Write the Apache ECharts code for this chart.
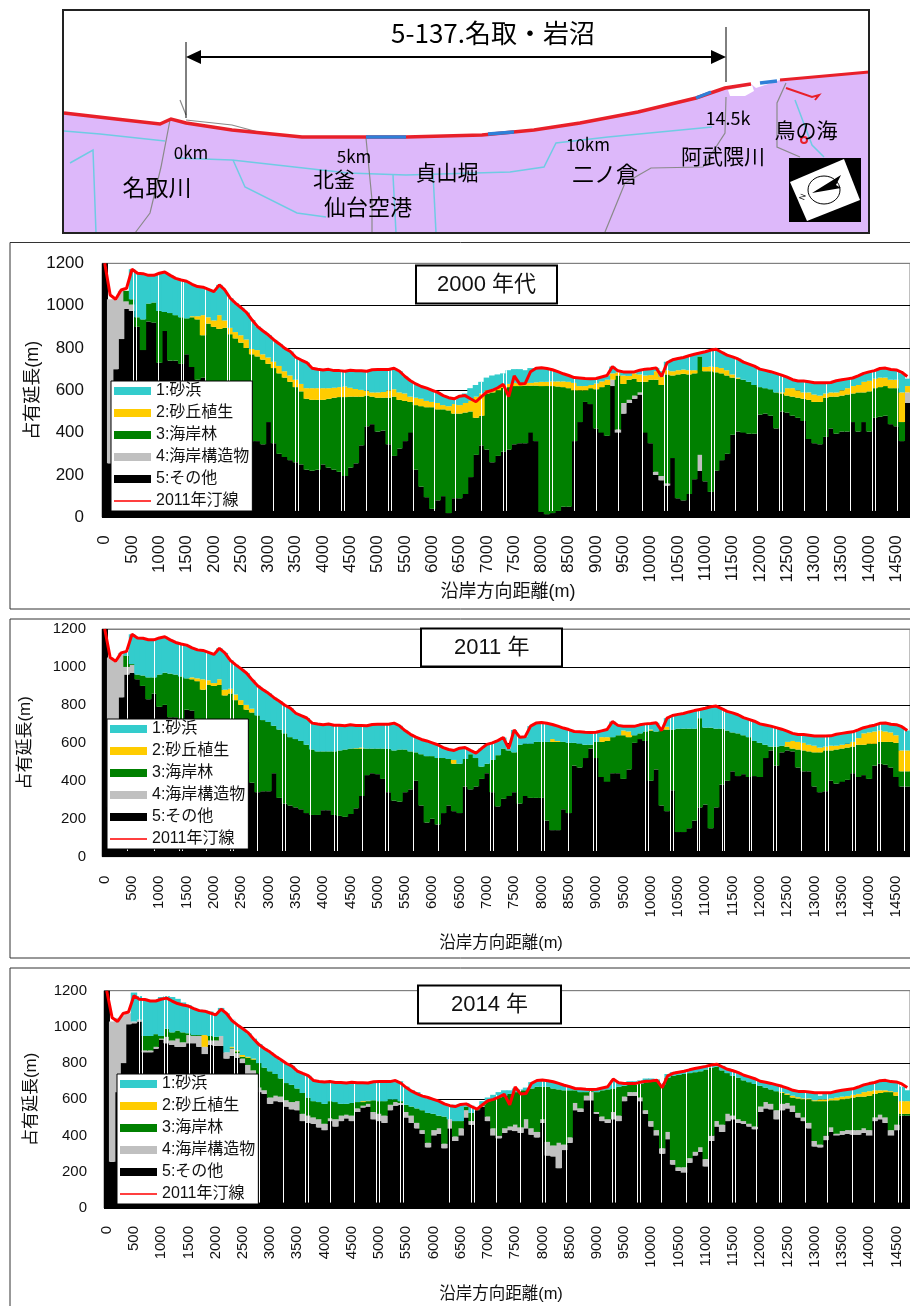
<!DOCTYPE html>
<html><head><meta charset="utf-8">
<style>html,body{margin:0;padding:0;background:#fff}#c{width:910px;height:1306px}</style>
<script src="https://cdn.jsdelivr.net/npm/echarts@6/dist/echarts.min.js"></script>
</head><body><div id="c"></div>
<script>
const binMetres=100, binCount=148;
const categories=Array.from({length:binCount},(_,i)=>String(i*binMetres));
const names=['5:その他','4:海岸構造物','3:海岸林','2:砂丘植生','1:砂浜'];
const shorelineName='2011年汀線';
const yearLabels=['2000 年代','2011 年','2014 年'];
const colors=['#000000','#C0C0C0','#008000','#FFCC00','#33CCCC'];

const shoreline=[1200,1050,1030,1074,1082,1172,1153,1151,1143,1143,
1153,1159,1143,1129,1121,1115,1101,1090,1087,1077,
1066,1098,1074,1035,1011,990,967,932,901,880,
861,838,819,798,783,756,743,731,704,699,
696,699,693,693,690,695,692,692,690,697,
698,698,698,704,690,665,645,630,618,610,
600,590,575,565,560,572,575,560,546,570,
592,600,612,628,570,668,630,632,688,704,
707,703,697,688,678,670,660,658,656,655,
656,663,670,712,692,687,687,687,695,700,
702,706,665,730,744,750,755,763,770,776,
782,790,794,780,766,758,748,733,724,714,
700,694,688,680,672,662,650,644,644,640,
636,636,636,637,645,650,654,658,668,680,
687,693,703,705,698,696,685,665];

// ---- 2000s
const other2000=[1200,255,700,842,985,975,900,790,925,920,
730,880,740,740,725,770,710,650,660,620,
620,610,600,590,580,560,520,360,360,345,
450,350,300,285,270,260,250,225,220,225,
250,235,225,215,195,235,255,340,430,440,
405,410,345,290,325,360,400,225,145,95,
40,80,100,20,90,90,110,190,295,340,
320,260,290,310,320,345,350,350,400,360,
25,15,20,30,50,50,360,450,545,535,
420,400,385,620,400,490,540,560,580,400,
350,200,175,150,280,90,80,110,180,220,
170,120,220,270,300,390,405,400,395,395,
485,490,480,420,500,495,480,470,455,370,
350,345,380,420,395,405,405,450,405,450,
405,470,475,480,440,430,360,540];
const struct2000=[0,775,330,228,35,30,0,0,0,0,
0,0,0,0,0,0,0,0,0,0, 0,0,0,0,0,0,0,0,0,0,
0,0,0,0,0,0,0,0,0,0, 0,0,0,0,0,0,0,0,0,0,
0,0,0,0,0,0,0,0,0,0, 0,0,0,0,0,0,0,0,0,0,
0,0,0,0,0,0,0,0,0,0, 0,0,0,0,0,0,0,0,0,0,
0,0,0,30,15,50,15,15,10,0,
0,15,20,10,0,0,0,0,0,75,
0,0,0,0,0,0,0,0,0,0, 0,0,0,0,0,0,0,0,0,0,
0,0,0,0,0,0,0,0,0,0, 0,0,0,0,0,0,0,50];
const forestTop2000=[1200,1030,1030,1070,1070,1030,945,935,1010,1015,
975,970,965,955,945,940,945,935,860,915,
900,890,895,865,845,825,800,770,760,745,
725,705,680,660,640,615,595,560,555,555,
555,560,565,568,568,570,570,570,575,570,
565,565,565,570,555,550,545,530,525,520,
520,510,510,505,490,490,495,500,470,480,
585,590,600,612,615,620,620,622,622,622,
620,620,620,618,615,610,600,600,600,610,
605,615,625,650,670,630,650,655,640,640,
650,650,625,675,670,675,678,675,680,760,
690,690,685,680,670,660,655,650,640,625,
615,610,605,590,585,575,570,565,560,555,
545,545,565,570,570,575,580,585,590,590,
595,610,615,620,610,610,450,590];
const dune2000=[0,0,0,0,0,0,0,0,0,0,
0,0,0,0,0,0,5,15,95,30,
30,65,35,30,30,35,40,25,30,25,
30,30,35,30,30,35,35,50,55,55,
55,50,47,47,50,42,36,32,23,20,
25,27,35,35,35,35,25,35,35,30,
25,30,20,20,45,40,45,50,100,105,
15,15,15,13,15,15,12,13,13,16,
20,20,22,24,27,30,35,20,20,15,
27,27,25,30,15,40,18,25,35,30,
22,40,40,20,20,20,20,20,15,0,
20,22,25,25,25,15,5,0,0,0,
0,0,0,0,5,35,40,35,30,35,
35,30,20,20,20,25,30,35,35,50,
50,45,45,40,40,40,140,30];
const total2000=[1200,1030,1030,1070,1070,1172,1153,1151,1143,1143,
1153,1159,1143,1129,1121,1115,1101,1090,1087,1077,
1066,1098,1074,1035,1011,990,967,932,901,880,
861,838,819,798,783,756,743,731,704,699,
696,699,693,693,690,695,692,692,690,697,
698,698,698,704,690,665,645,630,618,610,
600,590,575,565,555,572,585,610,625,640,
660,670,675,680,695,700,700,695,705,704,
707,703,697,688,678,670,660,658,656,655,
656,663,670,712,692,687,687,687,695,700,
702,706,690,735,745,752,758,765,772,778,
785,790,795,782,766,758,750,733,724,714,
700,694,688,680,672,662,650,644,644,640,
636,636,636,637,645,650,654,658,668,680,
687,693,703,705,698,696,680,655];
const gaps2000=[523,573,981,1391,1438,1841,2233,2280,2683,3085,3488,3543,3927,4330,4385,4787,5190,5245,5647,6032,6411,6887,7295,7357,8136,8191,8594,8996,9399,9838,10241,10303,10698,11108,11156,11547,11942,12345,12408,12803,13205,13652,14047,14109,14504];

// ---- 2011
const other2011=[1200,260,700,840,960,970,935,900,830,860,
790,800,735,735,720,775,770,700,680,650,
640,620,620,600,590,570,500,390,340,345,
345,440,310,280,270,260,250,230,220,220,
245,245,220,215,210,225,255,320,430,440,
435,410,340,295,290,340,355,400,270,180,
200,170,230,270,240,230,370,355,370,410,
440,340,265,305,320,340,280,320,310,310,
310,190,140,140,250,230,480,470,520,570,
520,420,395,440,440,410,460,600,620,610,
400,460,270,240,350,130,130,150,190,260,
275,150,260,380,400,450,425,435,420,425,
420,520,560,480,550,560,555,470,450,450,
370,340,345,400,385,395,405,440,420,430,
410,480,490,485,470,420,370,370];
const struct2011=[0,790,330,234,40,40,0,0,0,0,
0,0,0,0,0,0,0,0,0,0, 0,0,0,0,0,0,0,0,0,0,
0,0,0,0,0,0,0,0,0,0, 0,0,0,0,0,0,0,0,0,0,
0,0,0,0,0,0,0,0,0,0, 0,0,0,0,0,0,0,0,0,0,
0,0,0,0,0,0,0,0,0,0, 0,0,0,0,0,0,0,0,0,0,
0,0,0,0,0,0,0,0,0,0, 0,0,0,0,0,0,0,0,0,0,
0,0,0,0,0,0,0,0,0,0, 0,0,0,0,0,0,0,0,0,0,
0,0,0,0,0,0,0,0,0,0, 0,0,0,0,0,0,0,0];
const forestTop2011=[1200,1050,1030,1074,1060,1015,960,955,945,945,
960,970,965,960,950,940,935,925,880,905,
900,905,850,860,825,800,775,760,745,720,
710,690,670,650,630,620,610,590,565,555,
555,555,555,560,565,570,570,570,570,570,
570,570,568,560,565,565,555,550,540,530,
530,520,520,515,490,490,515,540,520,475,
490,510,535,570,560,550,590,595,595,605,
605,605,605,605,605,600,600,595,590,590,
605,605,610,630,640,640,630,640,650,660,
665,660,670,670,670,675,675,675,675,730,
680,680,675,675,665,655,650,640,630,610,
600,590,580,580,585,580,570,565,560,555,
550,550,560,560,565,570,575,580,590,590,
595,595,605,605,605,600,450,450];
const dune2011=[0,0,0,0,0,0,0,0,0,0,
0,0,0,0,0,0,10,15,55,25,
15,30,30,25,30,25,25,20,0,0,
0,0,0,0,0,0,0,0,0,0,
0,0,0,0,0,0,2,5,0,0,
0,0,0,0,0,0,0,0,0,0,
0,0,0,0,20,0,0,0,0,0,
0,0,0,0,0,0,0,0,0,0,
0,0,15,5,0,0,0,0,0,0,
0,25,20,0,0,25,30,0,0,0,
5,0,0,15,0,0,0,0,0,0,
0,0,0,0,0,0,0,0,0,0,
0,0,0,0,0,25,40,40,40,35,
35,25,20,25,20,20,20,25,35,60,
60,65,60,55,50,40,110,110];
const total2011=shoreline;
const gaps2011=[410,902,1357,1411,1848,2303,2358,2795,3250,3304,3759,4196,4250,4706,5142,5197,5652,6107,6598,7053,7103,7545,8000,8054,8491,8946,9001,9893,9947,10355,10402,10846,10894,11301,11349,11793,11840,12240,12295,12750,13187,13241,13696,13751,14141,14195,14646];

// ---- 2014
const other2014=[1200,255,640,800,1015,1020,1030,860,860,880,
930,910,900,890,890,910,910,890,850,900,
895,895,825,840,830,800,730,720,640,630,
575,590,585,560,545,540,480,470,465,445,
430,480,450,480,495,480,530,555,560,490,
480,470,540,565,570,500,470,440,410,335,
400,410,330,440,370,400,500,460,540,560,
480,400,385,415,430,425,415,440,405,390,
470,290,285,220,320,360,540,530,595,595,
520,480,470,490,480,590,620,620,590,520,
450,400,300,380,240,205,195,250,290,310,
230,370,450,420,480,490,470,465,450,435,
530,550,545,490,540,550,530,500,480,440,
340,335,375,420,400,405,410,405,405,415,
400,480,490,470,400,430,510,510];
const struct2014=[0,775,410,265,60,10,10,10,10,10,
5,35,25,45,25,45,40,60,40,25,
30,55,35,40,25,25,60,40,25,20,
35,30,30,35,40,50,40,40,35,45,
35,15,40,30,20,30,20,10,15,40,
40,40,30,20,10,30,40,30,20,25,
30,30,25,50,25,40,40,20,0,5,
25,40,15,25,20,35,30,50,35,30,
20,75,60,140,30,30,40,20,25,45,
10,25,20,40,30,25,20,20,20,20,
30,30,30,40,25,20,30,25,20,25,
40,30,30,40,40,20,20,15,15,15,
30,35,30,50,35,30,35,25,20,30,
30,15,25,25,10,20,20,25,25,25,
30,20,25,30,30,30,0,0];
const forestTop2014=[1200,1030,1050,1065,1075,1030,1040,950,950,960,
950,990,970,980,970,965,955,955,890,950,
945,950,860,885,865,835,830,820,800,775,
755,740,715,690,680,660,635,610,590,585,
575,590,585,575,575,580,585,585,590,595,
590,590,600,600,590,570,560,550,540,525,
520,510,505,490,480,480,560,525,545,570,
590,600,610,620,630,640,650,650,660,670,
670,670,660,655,650,650,650,640,640,645,
640,650,655,660,670,675,680,680,685,695,
700,700,680,720,730,735,740,745,750,755,
765,775,780,760,745,730,720,705,695,685,
675,665,655,645,635,625,610,605,600,600,
590,590,590,595,595,600,605,610,615,615,
620,630,635,640,640,620,520,520];
const dune2014=[0,0,0,0,0,0,0,0,0,0,
0,0,0,0,0,0,0,0,65,0,
0,0,0,5,5,10,5,5,0,0,
0,0,0,0,0,0,0,0,0,0,
0,0,0,0,0,0,0,5,2,0,
0,0,0,0,0,0,0,0,0,0, 0,0,0,0,0,0,0,0,0,0,
0,0,0,0,0,0,0,0,0,0, 0,0,0,0,0,0,0,0,0,0,
0,0,0,0,0,0,0,0,0,0, 0,0,0,0,0,0,0,0,0,0,
0,0,0,0,0,0,0,0,0,0,
0,0,0,0,5,7,10,7,5,5,
5,10,10,10,15,15,13,15,15,25,
25,20,15,10,5,20,70,70];
const total2014=[1200,1030,1050,1065,1075,1190,1170,1155,1145,1145,
1165,1170,1165,1155,1135,1120,1105,1095,1090,1085,
1075,1105,1075,1040,1010,990,965,935,905,880,
860,838,815,800,785,755,745,730,705,700,
695,695,693,693,690,695,692,692,690,697,
698,704,704,695,700,670,650,640,620,605,
600,590,575,560,570,575,580,565,550,590,
610,625,640,650,650,660,655,665,695,700,
705,700,695,688,680,670,665,660,655,655,
658,665,672,705,692,695,700,700,705,715,
715,710,690,740,750,755,758,765,772,778,
785,790,795,785,770,758,748,733,722,712,
700,694,688,680,672,662,650,644,640,640,
630,620,632,640,645,650,654,658,668,680,
687,693,703,705,700,696,670,650];
const gaps2014=[594,649,1050,1105,1507,1897,1952,2346,2401,2802,3240,3642,3697,4098,4536,4937,4992,5394,5449,6288,6689,6744,7146,7584,7985,8040,8441,8880,9281,9336,9737,9792,10175,10632,11033,11088,11484,11533,11927,12336,12384,12822,13230,13679,14081,14526,14581];

const FONT='"Liberation Sans","Noto Sans CJK JP",sans-serif';
const TXT='#111';

const panels=[
 {other:other2000,struct:struct2000,forestTop:forestTop2000,dune:dune2000,total:total2000,gaps:gaps2000,
  left:102,top:263.3,height:254,band:5.46,font:17,nameSize:18,yGap:60,xGap:66,xMargin:18,yMargin:18,nameSizeX:18,namePad:[0,0,0,4],
  legend:[111,381],title:[416,265],titlePad:[8.5,21]},
 {other:other2011,struct:struct2011,forestTop:forestTop2011,dune:dune2011,total:total2011,gaps:gaps2011,
  left:102,top:629,height:227.7,band:5.49,font:15,nameSize:17,yGap:68,xGap:79,xMargin:19,yMargin:16,nameSizeX:16.5,namePad:[0,10,0,0],
  legend:[107,719],title:[421,628],titlePad:[8.5,33]},
 {other:other2014,struct:struct2014,forestTop:forestTop2014,dune:dune2014,total:total2014,gaps:gaps2014,
  left:104,top:990.7,height:217.3,band:5.48,font:15,nameSize:17,yGap:64,xGap:78,xMargin:18,yMargin:17,nameSizeX:16.5,namePad:[0,12,0,0],
  legend:[117,1074],title:[418,985],titlePad:[8.5,33]}
];

const grid=[],xAxis=[],yAxis=[],series=[],legend=[],title=[];
panels.forEach((p,k)=>{
  grid.push({left:p.left,top:p.top,width:p.band*binCount,height:p.height,show:true,backgroundColor:'#fff',borderColor:'#808080',borderWidth:1});
  xAxis.push({type:'category',gridIndex:k,data:categories,
    axisLine:{show:false},axisTick:{show:false},
    axisLabel:{interval:4,rotate:90,fontSize:p.font,fontFamily:FONT,color:TXT,margin:p.xMargin,padding:[6,0,0,0]},
    name:'沿岸方向距離(m)',nameLocation:'middle',nameGap:p.xGap,nameMoveOverlap:false,
    nameTextStyle:{fontSize:p.nameSizeX,fontFamily:FONT,color:TXT,padding:p.namePad}});
  xAxis.push({type:'value',gridIndex:k,min:-binMetres/2,max:binMetres*(binCount-0.5),show:false});
  yAxis.push({type:'value',gridIndex:k,min:0,max:1200,interval:200,
    axisLine:{show:false},axisTick:{show:false},
    axisLabel:{fontSize:p.font,fontFamily:FONT,color:TXT,margin:p.yMargin,formatter:v=>String(v)},
    splitLine:{show:true,lineStyle:{color:['#000','#000','#000','#000','#000','#000','#808080'],width:1}},
    name:'占有延長(m)',nameLocation:'middle',nameGap:p.yGap,nameMoveOverlap:false,
    nameTextStyle:{fontSize:p.nameSize,fontFamily:FONT,color:TXT}});
  const dunePlus=p.forestTop.map((f,i)=>f+p.dune[i]);
  const values=[
    p.other,
    p.struct,
    p.forestTop.map((f,i)=>Math.max(0,f-p.other[i]-p.struct[i])),
    p.dune,
    p.total.map((t,i)=>Math.max(0,t-dunePlus[i]))
  ];
  values.forEach((v,j)=>series.push({
    type:'bar',name:names[j],xAxisIndex:k*2,yAxisIndex:k,stack:'s'+k,data:v,
    barWidth:p.band+1,animation:false,silent:true,
    itemStyle:{color:colors[j]}}));
  series.push({
    type:'custom',xAxisIndex:k*2+1,yAxisIndex:k,z:3,animation:false,silent:true,clip:true,
    data:p.gaps.map(m=>[m,p.total[Math.min(binCount-1,Math.round(m/binMetres))]]),
    renderItem:(params,api)=>{
      const a=api.coord([api.value(0),30]),b=api.coord([api.value(0),api.value(1)]);
      const x=Math.round(a[0])+0.5;
      return {type:'line',shape:{x1:x,y1:a[1],x2:x,y2:b[1]},style:{stroke:'#fff',lineWidth:1}};
    }});
  series.push({type:'line',name:shorelineName,xAxisIndex:k*2,yAxisIndex:k,data:shoreline,z:4,
    symbol:'none',animation:false,silent:true,lineStyle:{color:'#FF0000',width:3},itemStyle:{color:'#FF0000'}});
  legend.push({left:p.legend[0],top:p.legend[1],orient:'vertical',selectedMode:false,z:20,
    backgroundColor:'#fff',borderColor:'#000',borderWidth:1,padding:[2,3],
    itemWidth:37,itemHeight:8,itemGap:6,symbolKeepAspect:false,
    textStyle:{fontSize:16,fontFamily:FONT,color:TXT},
    data:[names[4],names[3],names[2],names[1],names[0]].map(n=>({name:n,icon:'rect'}))
      .concat([{name:shorelineName,icon:'path://M0 0H0ZM0 42H100V58H0ZM100 100H100Z'}])});
  title.push({text:yearLabels[k],left:p.title[0],top:p.title[1],padding:p.titlePad,z:20,
    backgroundColor:'#fff',borderColor:'#000',borderWidth:2,
    textStyle:{fontSize:22,fontWeight:'normal',fontFamily:FONT,color:TXT}});
});

// ---- location map above the charts (decoration)
const PURPLE='#DDB8FA',RIVER='#6FCBE3',ROAD='#8A8A8A';
const pl=(pts,stroke,w)=>({type:'polyline',shape:{points:pts},style:{stroke,lineWidth:w,fill:'none'}});
const tx=(text,x,y,size)=>({type:'text',x,y,style:{text,fill:'#000',font:size+'px "Noto Sans CJK JP"',align:'center',verticalAlign:'middle'}});
const shore=[[64,113],[116,119],[160,124],[171,119],[186,123],[232,130],[302,137],[366,137],[406,137],[482,135],[534,130],[580,123],[638,112],[696,98],[725,88],[751,84]];
const mapEls=[
 {type:'rect',shape:{x:63,y:10,width:806,height:223},style:{fill:'#fff',stroke:'none'}},
 {type:'polygon',shape:{points:shore.concat([[756,88],[780,80],[869,73],[869,233],[63,233],[63,113]])},style:{fill:PURPLE}},
 {type:'polygon',shape:{points:[[728,90],[752,85],[754,91],[745,96],[730,96]]},style:{fill:'#fff'}},
 pl([[64,131],[100,134],[165,141]],RIVER,1.5),
 pl([[175,158],[232,160],[348,173],[406,175],[510,172],[544,167],[556,143],[608,137],[712,127]],RIVER,1.5),
 pl([[233,160],[245,187],[297,213],[326,217]],RIVER,1.5),
 pl([[70,163],[93,150],[96,233]],RIVER,1.5),
 pl([[433,173],[436,233]],RIVER,1.5),pl([[393,175],[396,233]],RIVER,1.5),
 pl([[795,100],[812,145],[824,157]],RIVER,1.5),
 pl([[170,120],[161,167],[150,213],[135,233]],ROAD,1.2),
 pl([[366,138],[372,200],[372,233]],ROAD,1.2),
 pl([[605,232],[625,183],[651,168],[703,167],[725,133],[726,97]],ROAD,1.2),
 pl([[786,83],[777,103],[777,147],[800,157]],ROAD,1.2),
 pl([[186,115],[180,100]],ROAD,1.2),
 pl([[186,120],[232,125],[262,133]],ROAD,1.2),
 pl(shore,'#E8202A',3.5),
 pl([[780,80],[869,72]],'#E8202A',3),
 pl([[786,88],[812,97],[819,95],[815,100]],'#E8202A',2),
 {type:'circle',shape:{cx:804,cy:140,r:3},style:{fill:'none',stroke:'#E8202A',lineWidth:2}},
 pl([[366,137],[406,137]],'#2F7FD8',3.5),pl([[488,134],[514,132]],'#2F7FD8',3.5),
 pl([[696,98],[711,92]],'#2F7FD8',3.5),pl([[760,83],[777,81]],'#2F7FD8',3.5),
 {type:'rect',shape:{x:63,y:10,width:806,height:223},style:{fill:'none',stroke:'#222',lineWidth:2}},
 pl([[186,42],[186,118]],'#000',1),pl([[726,27],[726,82]],'#000',1),
 pl([[196,57],[716,57]],'#000',2),
 {type:'polygon',shape:{points:[[186,57],[201,50],[201,64]]},style:{fill:'#000'}},
 {type:'polygon',shape:{points:[[726,57],[711,50],[711,64]]},style:{fill:'#000'}},
 tx('5-137.名取・岩沼',493,33,26),
 tx('0km',191,153,17),tx('名取川',157,187,23),tx('5km',354,157,17),tx('北釜',334,179,21),
 tx('仙台空港',368,207,22),tx('貞山堀',447,172,21),tx('10km',588,145,17),tx('二ノ倉',605,174,22),
 tx('14.5k',728,118,18),tx('阿武隈川',723,156,21),tx('鳥の海',806,130,21),
 {type:'rect',shape:{x:789,y:158,width:72,height:64},style:{fill:'#000'}},
 {type:'polygon',shape:{points:[[844,159],[860,200],[807,221],[790,182]]},style:{fill:'#fff'}},
 {type:'ellipse',shape:{cx:824,cy:190,rx:16,ry:14},style:{fill:'#fff',stroke:'#000',lineWidth:1}},
 {type:'polygon',shape:{points:[[812,193],[841,175],[836,185],[841,188]]},style:{fill:'#000'}},
 {type:'text',x:803,y:197,rotation:1.2,style:{text:'N',fill:'#000',font:'8px "Liberation Sans"',align:'center',verticalAlign:'middle'}}
];
const frames=[[242.5,366.5],[619,339],[968,440]].map(f=>({type:'rect',shape:{x:10,y:f[0],width:1000,height:f[1]},style:{fill:'none',stroke:'#333',lineWidth:1}}));

const chart=echarts.init(document.getElementById('c'),null,{renderer:'canvas'});
chart.setOption({backgroundColor:'#fff',animation:false,grid,xAxis,yAxis,series,legend,title,
  graphic:{elements:mapEls.concat(frames)}});
</script></body></html>
